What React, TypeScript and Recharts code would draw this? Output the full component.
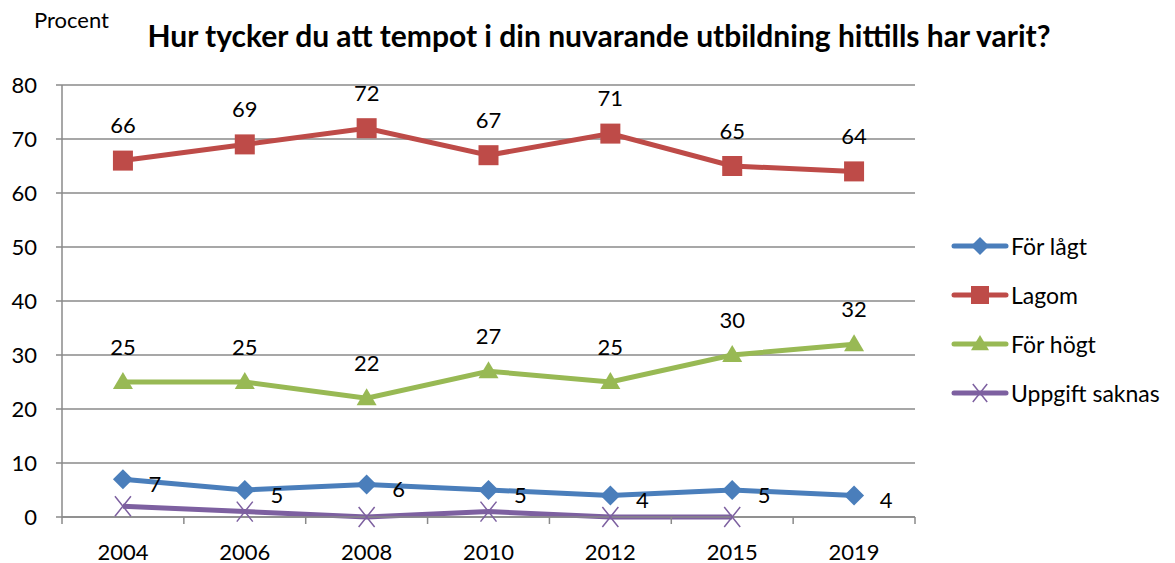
import { LineChart, Line, XAxis, YAxis, CartesianGrid, Legend, LabelList } from "recharts";

const years = ["2004", "2006", "2008", "2010", "2012", "2015", "2019"];
const forLagt = [7, 5, 6, 5, 4, 5, 4];
const lagom = [66, 69, 72, 67, 71, 65, 64];
const forHogt = [25, 25, 22, 27, 25, 30, 32];
const uppgiftSaknas = [2, 1, 0, 1, 0, 0, null];
const yTicks = [0, 10, 20, 30, 40, 50, 60, 70, 80];

const data = years.map((year, i) => ({
  year,
  forLagt: forLagt[i],
  lagom: lagom[i],
  forHogt: forHogt[i],
  uppgiftSaknas: uppgiftSaknas[i],
}));

const FONT = "Lato, 'Open Sans', sans-serif";
const GRID = "#8a8a8a";
const BLUE = "#4a7ebb";
const RED = "#be4b48";
const GREEN = "#98b954";
const PURPLE = "#7d60a0";

const PLOT_W = 853;
const BAND = PLOT_W / years.length;

type Shape = "diamond" | "square" | "triangle" | "cross";

function marker(shape: Shape, cx: number, cy: number, color: string, s = 10) {
  if (shape === "diamond")
    return <path d={`M${cx},${cy - s}L${cx + s},${cy}L${cx},${cy + s}L${cx - s},${cy}Z`} fill={color} />;
  if (shape === "square")
    return <rect x={cx - s} y={cy - s} width={s * 2} height={s * 2} fill={color} />;
  if (shape === "triangle")
    return <path d={`M${cx},${cy - s}L${cx + s},${cy + s * 0.7}L${cx - s},${cy + s * 0.7}Z`} fill={color} />;
  return (
    <path
      d={`M${cx - s * 0.8},${cy - s}L${cx + s * 0.8},${cy + s}M${cx + s * 0.8},${cy - s}L${cx - s * 0.8},${cy + s}`}
      stroke={color}
      strokeWidth={1.5}
      fill="none"
    />
  );
}

const dot = (shape: Shape, color: string) => (props: any) => {
  const { cx, cy, index } = props;
  if (cx == null || cy == null || props.value == null || props.payload == null) return <g key={index} />;
  return <g key={index}>{marker(shape, cx, cy, color)}</g>;
};

function AboveLabel(props: any) {
  const { x, y, value } = props;
  if (value == null) return null;
  return (
    <text x={x} y={y - 36} textAnchor="middle" dominantBaseline="central" fontSize={22} fontFamily={FONT} fill="#000">
      {value}
    </text>
  );
}

function RightLabel(props: any) {
  const { x, y, value } = props;
  if (value == null) return null;
  return (
    <text x={x + 32} y={y + 4} textAnchor="middle" dominantBaseline="central" fontSize={22} fontFamily={FONT} fill="#000">
      {value}
    </text>
  );
}

function YearTick(props: any) {
  const { x, y, payload, index } = props;
  return (
    <g>
      <line x1={x - BAND / 2} x2={x - BAND / 2} y1={y} y2={y + 7} stroke={GRID} strokeWidth={1.5} />
      {index === years.length - 1 && (
        <line x1={x + BAND / 2} x2={x + BAND / 2} y1={y} y2={y + 7} stroke={GRID} strokeWidth={1.5} />
      )}
      <text x={x} y={y + 34} textAnchor="middle" dominantBaseline="central" fontSize={22} fontFamily={FONT} fill="#000">
        {payload.value}
      </text>
    </g>
  );
}

const legendItems: { label: string; color: string; shape: Shape }[] = [
  { label: "För lågt", color: BLUE, shape: "diamond" },
  { label: "Lagom", color: RED, shape: "square" },
  { label: "För högt", color: GREEN, shape: "triangle" },
  { label: "Uppgift saknas", color: PURPLE, shape: "cross" },
];

function LegendBox() {
  return (
    <svg width={227} height={200}>
      {legendItems.map((it, i) => {
        const cy = 21 + i * 49;
        return (
          <g key={it.label}>
            <line x1={6} x2={58} y1={cy} y2={cy} stroke={it.color} strokeWidth={5} strokeLinecap="round" />
            {marker(it.shape, 32, cy, it.color, 9)}
            <text x={63} y={cy} dominantBaseline="central" fontSize={23} fontFamily={FONT} fill="#000">
              {it.label}
            </text>
          </g>
        );
      })}
    </svg>
  );
}

export default function App() {
  return (
    <div style={{ position: "absolute", left: 0, top: 0, width: 1175, height: 563, background: "#fff", fontFamily: FONT }}>
      <div style={{ position: "absolute", left: 34, top: 6, fontSize: 22, color: "#000", lineHeight: "28px" }}>Procent</div>
      <div
        style={{
          position: "absolute",
          left: 120,
          top: 16,
          width: 958,
          textAlign: "center",
          fontSize: 30,
          lineHeight: "38px",
          fontWeight: 700,
          color: "#000",
        }}
      >
        Hur tycker du att tempot i din nuvarande utbildning hittills har varit?
      </div>
      <LineChart width={1175} height={563} data={data} margin={{ top: 85, right: 260, bottom: 6, left: 0 }}>
        <CartesianGrid vertical={false} stroke={GRID} strokeWidth={1.5} />
        <XAxis
          dataKey="year"
          scale="band"
          height={40}
          tickLine={false}
          tickSize={0}
          tickMargin={0}
          axisLine={{ stroke: GRID, strokeWidth: 1.5 }}
          tick={<YearTick />}
          interval={0}
        />
        <YAxis
          width={62}
          domain={[0, 80]}
          ticks={yTicks}
          tickSize={6}
          tickMargin={19}
          axisLine={{ stroke: GRID, strokeWidth: 1.5 }}
          tickLine={{ stroke: GRID, strokeWidth: 1.5 }}
          tick={{ fontSize: 22, fontFamily: FONT, fill: "#000" }}
        />
        <Legend
          layout="vertical"
          align="center"
          verticalAlign="middle"
          wrapperStyle={{ left: 948, top: 225, width: 227 }}
          content={() => <LegendBox />}
        />
        <Line dataKey="forLagt" stroke={BLUE} strokeWidth={5} dot={dot("diamond", BLUE)} isAnimationActive={false}>
          <LabelList dataKey="forLagt" content={<RightLabel />} />
        </Line>
        <Line dataKey="lagom" stroke={RED} strokeWidth={5} dot={dot("square", RED)} isAnimationActive={false}>
          <LabelList dataKey="lagom" content={<AboveLabel />} />
        </Line>
        <Line dataKey="forHogt" stroke={GREEN} strokeWidth={5} dot={dot("triangle", GREEN)} isAnimationActive={false}>
          <LabelList dataKey="forHogt" content={<AboveLabel />} />
        </Line>
        <Line dataKey="uppgiftSaknas" stroke={PURPLE} strokeWidth={5} dot={dot("cross", PURPLE)} isAnimationActive={false} />
      </LineChart>
    </div>
  );
}
